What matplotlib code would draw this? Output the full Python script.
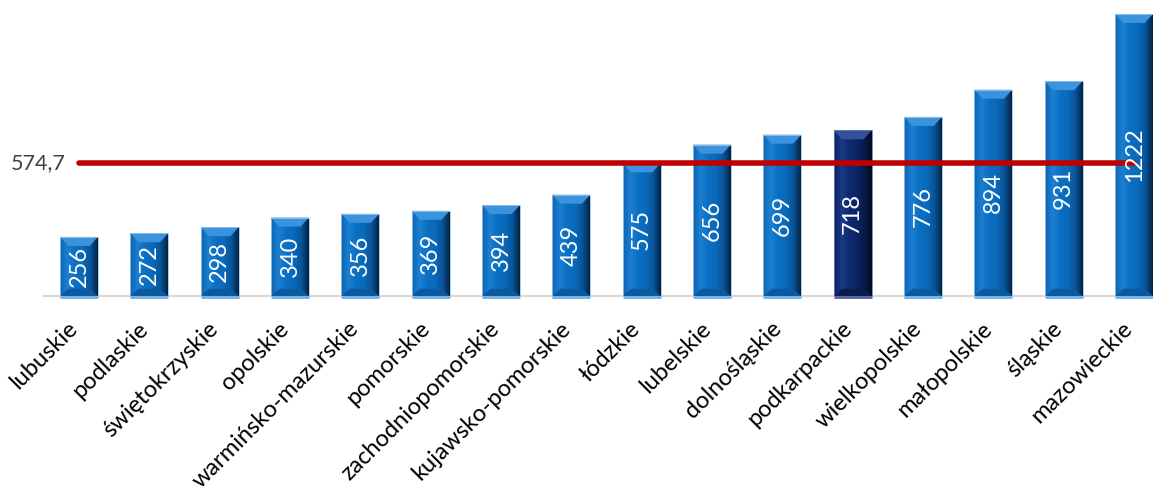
import matplotlib
matplotlib.use("Agg")
import matplotlib.pyplot as plt
import numpy as np
from matplotlib.patches import Polygon
from matplotlib.colors import LinearSegmentedColormap

categories = ["lubuskie", "podlaskie", "świętokrzyskie", "opolskie", "warmińsko-mazurskie",
              "pomorskie", "zachodniopomorskie", "kujawsko-pomorskie", "łódzkie", "lubelskie",
              "dolnośląskie", "podkarpackie", "wielkopolskie", "małopolskie", "śląskie", "mazowieckie"]
values = [256, 272, 298, 340, 356, 369, 394, 439, 575, 656, 699, 718, 776, 894, 931, 1222]
highlight = "podkarpackie"
average = 574.7
average_label = "574,7"

plt.rcParams['font.family'] = ['Lato', 'DejaVu Sans']

W, H = 1153, 496
fig = plt.figure(figsize=(W / 100, H / 100), dpi=100)
ax = fig.add_axes([43.8 / W, (H - 296) / H, (1169.2 - 43.8) / W, 296 / H])
ax.set_xlim(-0.5, len(categories) - 0.5)
ax.set_ylim(0, 1282.7)
ax.axis("off")

x = np.arange(len(categories))
bw = 0.54
blue_cmap = LinearSegmentedColormap.from_list("b", ["#0b63b0", "#1b80d2", "#0b6fc2", "#0a6abb", "#08559a", "#03223f"])
navy_cmap = LinearSegmentedColormap.from_list("n", ["#0a2260", "#1a3a88", "#0e2a70", "#0c2566", "#081a4a", "#020a1e"])

# baseline
ax.plot([-0.5, len(categories) - 0.5], [0, 0], color="#d9d9d9", lw=1.6, zorder=1, clip_on=False)

bars = ax.bar(x, values, width=bw, color="none", edgecolor="none", zorder=2)
grad = np.linspace(0, 1, 256).reshape(1, -1)
px_per_unit = 296 / 1282.7
for xi, (cat, v, b) in enumerate(zip(categories, values, bars)):
    cmap = navy_cmap if cat == highlight else blue_cmap
    x0 = xi - bw / 2
    x1 = xi + bw / 2
    im = ax.imshow(grad, cmap=cmap, extent=[x0, x1, 0, v], aspect="auto", zorder=2,
                   interpolation="bilinear")
    im.set_clip_path(b)
    # top bevel
    bh = 9 / px_per_unit
    inset = bw * 0.22
    top_col = "#3a93dc" if cat != highlight else "#33509c"
    ax.add_patch(Polygon([(x0, v), (x1, v), (x1 - inset, v - bh), (x0 + inset, v - bh)],
                         closed=True, color=top_col, lw=0, zorder=3))
    # bottom bevel
    bot_col = "#0a5aa0" if cat != highlight else "#0a1c50"
    ax.add_patch(Polygon([(x0, 0), (x1, 0), (x1 - inset, bh * 0.8), (x0 + inset, bh * 0.8)],
                         closed=True, color=bot_col, lw=0, zorder=3))
    # edge
    ax.add_patch(Polygon([(x0, 0), (x0, v), (x1, v), (x1, 0)], closed=True, fill=False,
                         edgecolor="#9cc3e6" if cat != highlight else "#6a7fb0", lw=0.6, zorder=3))
    # reflection strip under bar
    ax.plot([x0, x1], [-5, -5], color="#6fb0e8" if cat != highlight else "#5060a0", lw=2,
            solid_capstyle="butt", clip_on=False, zorder=2)
    ax.text(xi, v / 2, str(v), rotation=90, ha="center", va="center", color="white",
            fontsize=17, zorder=5)

# average line
ax.plot([0, len(categories) - 1], [average, average], color="#c00000", lw=4, zorder=4,
        solid_capstyle="round")
ax.text(-13 / 70.33, average, average_label, ha="right", va="center", fontsize=15.5,
        color="#404040", clip_on=False)

for xi, cat in enumerate(categories):
    ax.text(xi - 0.17, -95, cat, rotation=45, rotation_mode="anchor", ha="right", va="top",
            fontsize=17, color="#000000", clip_on=False)

fig.savefig("out.png", dpi=100)
